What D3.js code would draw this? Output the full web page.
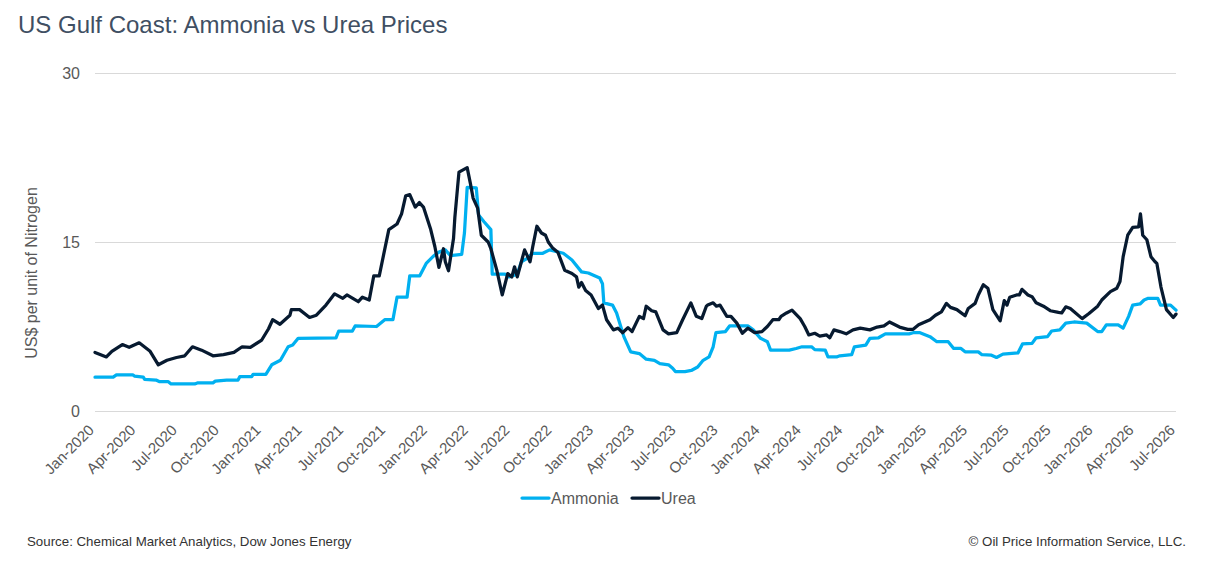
<!DOCTYPE html>
<html>
<head>
<meta charset="utf-8">
<script src="https://cdn.jsdelivr.net/npm/d3@7"></script>
<style>
  body { margin: 0; background: #ffffff; }
  svg { display: block; font-family: "Liberation Sans", Arial, sans-serif; }
</style>
</head>
<body>
<div id="chart"></div>
<script>
// Ammonia, US$ per unit of N
const ammoniaDates = [
  "2020-01-01","2020-02-10","2020-02-17","2020-03-24","2020-03-28","2020-04-16","2020-04-19","2020-05-14",
  "2020-05-22","2020-06-10","2020-06-16","2020-08-07","2020-08-14","2020-09-16","2020-09-21","2020-10-16",
  "2020-11-10","2020-11-14","2020-12-10","2020-12-13","2021-01-10","2021-01-23","2021-02-11","2021-02-28",
  "2021-03-10","2021-03-22","2021-06-13","2021-06-19","2021-07-19","2021-07-25","2021-09-10","2021-09-28",
  "2021-10-16","2021-10-25","2021-11-16","2021-11-22","2021-12-14","2021-12-28","2022-01-13","2022-01-25",
  "2022-02-08","2022-02-19","2022-03-16","2022-03-22","2022-03-28","2022-04-17","2022-04-22","2022-05-04",
  "2022-05-19","2022-05-22","2022-06-19","2022-06-28","2022-07-16","2022-07-25","2022-08-05","2022-08-19",
  "2022-09-10","2022-09-25","2022-10-25","2022-11-13","2022-12-04","2022-12-19","2023-01-13","2023-01-19",
  "2023-01-22","2023-02-10","2023-02-19","2023-03-07","2023-03-22","2023-04-10","2023-04-25","2023-05-13",
  "2023-05-25","2023-06-13","2023-06-22","2023-06-28","2023-07-19","2023-08-02","2023-08-16","2023-08-28",
  "2023-09-10","2023-09-19","2023-09-25","2023-10-16","2023-10-25","2023-12-04","2023-12-16","2024-01-01",
  "2024-01-16","2024-01-23","2024-03-04","2024-03-19","2024-04-01","2024-04-22","2024-04-29","2024-05-22",
  "2024-05-28","2024-06-16","2024-06-23","2024-07-19","2024-07-25","2024-08-19","2024-08-28","2024-09-16",
  "2024-10-01","2024-11-22","2024-12-01","2024-12-16","2025-01-07","2025-01-22","2025-02-16","2025-02-28",
  "2025-03-16","2025-03-25","2025-04-23","2025-05-01","2025-05-22","2025-06-02","2025-06-16","2025-07-19",
  "2025-07-29","2025-08-19","2025-08-28","2025-09-22","2025-10-01","2025-10-19","2025-11-01","2025-11-19",
  "2025-12-17","2026-01-10","2026-01-19","2026-01-29","2026-02-24","2026-03-07","2026-03-19","2026-03-28",
  "2026-04-13","2026-04-22","2026-05-01","2026-05-22","2026-05-28","2026-06-19","2026-07-01"
];
const ammoniaValues = [
  3.0,3.0,3.2,3.2,3.1,3.0,2.8,2.75,
  2.6,2.6,2.4,2.4,2.5,2.5,2.65,2.75,
  2.75,3.05,3.05,3.25,3.25,4.1,4.5,5.7,
  5.85,6.45,6.5,7.1,7.1,7.55,7.5,8.1,
  8.1,10.1,10.1,12.0,12.0,13.1,13.75,14.1,
  14.3,13.8,13.9,15.8,19.85,19.8,17.4,16.8,
  16.1,12.15,12.15,11.9,12.15,13.25,13.5,14.0,
  14.0,14.3,14.0,13.4,12.35,12.25,11.8,11.3,
  9.6,9.4,8.7,6.6,5.25,5.1,4.6,4.5,
  4.2,4.1,3.8,3.5,3.5,3.6,3.9,4.5,
  4.8,5.7,6.95,7.05,7.55,7.55,7.2,6.45,
  6.15,5.4,5.4,5.55,5.7,5.7,5.45,5.4,
  4.8,4.8,4.9,5.0,5.7,5.85,6.45,6.5,
  6.85,6.85,6.95,6.95,6.6,6.15,6.15,5.55,
  5.55,5.25,5.25,5.0,4.95,4.75,5.05,5.15,
  5.95,6.0,6.5,6.6,7.1,7.2,7.8,7.9,
  7.8,7.05,7.05,7.65,7.65,7.35,8.4,9.4,
  9.5,9.85,10.0,10.0,9.4,9.4,8.95
];

// Urea, US$ per unit of N
const ureaDates = [
  "2020-01-01","2020-01-26","2020-02-07","2020-03-01","2020-03-16","2020-04-07","2020-05-01","2020-05-19",
  "2020-06-07","2020-06-28","2020-07-16","2020-08-02","2020-08-22","2020-09-16","2020-10-09","2020-11-01",
  "2020-11-19","2020-12-07","2021-01-01","2021-01-16","2021-01-25","2021-02-10","2021-03-04","2021-03-07",
  "2021-03-25","2021-04-16","2021-05-01","2021-05-22","2021-06-10","2021-06-28","2021-07-07","2021-08-01",
  "2021-08-10","2021-08-25","2021-09-04","2021-09-16","2021-10-07","2021-10-25","2021-11-04","2021-11-13",
  "2021-11-22","2021-12-04","2021-12-13","2021-12-22","2022-01-07","2022-01-16","2022-01-25","2022-02-04",
  "2022-02-08","2022-02-15","2022-02-26","2022-03-01","2022-03-07","2022-03-10","2022-03-28","2022-04-04",
  "2022-04-10","2022-04-20","2022-04-28","2022-05-13","2022-05-19","2022-06-01","2022-06-13","2022-06-25",
  "2022-07-04","2022-07-10","2022-07-16","2022-08-01","2022-08-13","2022-08-19","2022-08-28","2022-09-07",
  "2022-09-16","2022-09-22","2022-10-01","2022-10-13","2022-10-28","2022-11-13","2022-11-23","2022-11-28",
  "2022-12-04","2022-12-13","2022-12-25","2023-01-10","2023-01-19","2023-01-28","2023-02-12","2023-02-22",
  "2023-03-04","2023-03-16","2023-03-25","2023-04-10","2023-04-19","2023-04-25","2023-05-07","2023-05-16",
  "2023-06-01","2023-06-13","2023-07-01","2023-07-14","2023-08-01","2023-08-13","2023-08-25","2023-09-04",
  "2023-09-07","2023-09-19","2023-09-26","2023-10-04","2023-10-19","2023-10-28","2023-11-10","2023-11-22",
  "2023-12-04","2023-12-19","2024-01-04","2024-01-16","2024-01-28","2024-02-10","2024-02-15","2024-02-27",
  "2024-03-10","2024-03-28","2024-04-07","2024-04-16","2024-04-29","2024-05-10","2024-05-25","2024-06-01",
  "2024-06-10","2024-06-23","2024-07-07","2024-07-22","2024-08-07","2024-08-28","2024-09-13","2024-09-28",
  "2024-10-10","2024-11-01","2024-11-19","2024-12-01","2024-12-13","2025-01-07","2025-01-19","2025-02-01",
  "2025-02-12","2025-02-21","2025-03-07","2025-03-25","2025-04-01","2025-04-16","2025-04-23","2025-05-04",
  "2025-05-14","2025-05-25","2025-06-10","2025-06-19","2025-06-25","2025-07-01","2025-07-16","2025-07-22",
  "2025-07-28","2025-08-10","2025-08-19","2025-08-28","2025-09-13","2025-09-28","2025-10-16","2025-10-23",
  "2025-11-01","2025-11-11","2025-12-07","2025-12-22","2026-01-10","2026-01-19","2026-02-07","2026-02-21",
  "2026-02-28","2026-03-07","2026-03-17","2026-03-28","2026-04-10","2026-04-14","2026-04-19","2026-04-28",
  "2026-05-07","2026-05-16","2026-05-20","2026-05-29","2026-06-10","2026-06-25","2026-07-01"
];
const ureaValues = [
  5.2,4.8,5.3,5.9,5.65,6.05,5.3,4.1,
  4.5,4.75,4.9,5.7,5.4,4.9,5.0,5.2,
  5.7,5.65,6.3,7.3,8.1,7.7,8.5,9.0,
  9.0,8.3,8.5,9.4,10.4,10.0,10.3,9.7,
  10.1,9.85,12.0,12.0,16.1,16.6,17.5,19.1,
  19.2,18.1,18.5,18.1,16.1,14.6,12.75,14.4,
  13.25,12.45,15.3,17.2,19.9,21.2,21.6,20.2,
  18.9,18.0,15.6,15.0,14.4,12.5,10.3,12.2,
  11.9,12.8,11.9,14.3,13.25,14.6,16.4,15.8,
  15.6,15.0,14.5,14.1,12.5,12.2,11.9,11.0,
  11.4,10.7,10.3,9.1,9.4,8.1,7.2,7.35,
  6.95,7.4,7.05,8.4,8.2,9.3,8.9,8.8,
  7.2,6.85,6.95,8.1,9.6,8.4,8.2,9.3,
  9.4,9.6,9.3,9.4,8.4,8.4,7.8,6.9,
  7.35,6.95,7.05,7.5,8.1,8.1,8.4,8.7,
  8.95,8.2,7.5,6.75,6.9,6.65,6.75,6.5,
  7.2,7.05,6.85,7.2,7.35,7.2,7.45,7.55,
  7.9,7.45,7.25,7.25,7.65,8.1,8.5,8.8,
  9.55,9.2,9.0,8.45,9.1,9.55,10.3,11.2,
  10.9,9.0,8.0,9.8,9.4,10.1,10.3,10.3,
  10.8,10.3,10.15,9.6,9.3,8.9,8.75,8.7,
  9.25,9.1,8.2,8.65,9.3,9.85,10.6,10.9,
  11.5,13.7,15.6,16.3,16.35,17.5,15.6,15.2,
  13.7,13.25,13.1,11.0,9.0,8.3,8.6
];

const yTicks = [0, 15, 30];
const seriesNames = ["Ammonia", "Urea"];
const seriesColors = ["#00b0f0", "#071a30"];

const width = 1206;
const height = 562;
const margin = { top: 73, right: 30, bottom: 151, left: 95 };

const parseDate = d3.timeParse("%Y-%m-%d");
const series = [
  ammoniaDates.map(function (d, i) { return { date: parseDate(d), value: ammoniaValues[i] }; }),
  ureaDates.map(function (d, i) { return { date: parseDate(d), value: ureaValues[i] }; })
];

const svg = d3.select("#chart")
  .append("svg")
  .attr("width", width)
  .attr("height", height);

const x = d3.scaleTime()
  .domain([parseDate("2020-01-01"), parseDate("2026-07-01")])
  .range([margin.left, width - margin.right]);

const y = d3.scaleLinear()
  .domain([0, 30])
  .range([height - margin.bottom, margin.top]);

// title
svg.append("text")
  .attr("x", 18)
  .attr("y", 33)
  .attr("font-size", 24)
  .attr("fill", "#3f4f63")
  .text("US Gulf Coast: Ammonia vs Urea Prices");

// gridlines + y labels
const yAxis = svg.append("g")
  .attr("transform", "translate(" + margin.left + ",0)")
  .call(d3.axisLeft(y)
    .tickValues(yTicks)
    .tickSize(-(width - margin.left - margin.right))
    .tickPadding(15));
yAxis.select(".domain").remove();
yAxis.selectAll(".tick line").attr("stroke", "#d9d9d9");
yAxis.selectAll(".tick text")
  .attr("font-size", 16)
  .attr("fill", "#595959")
  .attr("font-family", "Liberation Sans, Arial, sans-serif");

svg.append("text")
  .attr("transform", "translate(37,273) rotate(-90)")
  .attr("text-anchor", "middle")
  .attr("font-size", 16)
  .attr("fill", "#595959")
  .text("US$ per unit of Nitrogen");

// x labels
const fmt = d3.timeFormat("%b-%Y");
const xTicks = x.ticks(d3.timeMonth.every(3));
svg.append("g")
  .selectAll("text")
  .data(xTicks)
  .enter()
  .append("text")
  .attr("transform", function (d) { return "translate(" + x(d) + ",431) rotate(-45)"; })
  .attr("text-anchor", "end")
  .attr("font-size", 15)
  .attr("fill", "#595959")
  .text(function (d) { return fmt(d); });

// lines
const line = d3.line()
  .x(function (d) { return x(d.date); })
  .y(function (d) { return y(d.value); });

svg.append("g")
  .selectAll("path")
  .data(series)
  .enter()
  .append("path")
  .attr("d", line)
  .attr("fill", "none")
  .attr("stroke", function (d, i) { return seriesColors[i]; })
  .attr("stroke-width", 3.25)
  .attr("stroke-linejoin", "round")
  .attr("stroke-linecap", "round");

// legend
const legendX = [522, 632];
const legend = svg.append("g")
  .selectAll("g")
  .data(seriesNames)
  .enter()
  .append("g")
  .attr("transform", function (d, i) { return "translate(" + legendX[i] + ",498)"; });
legend.append("line")
  .attr("x1", 0).attr("x2", 27)
  .attr("stroke", function (d, i) { return seriesColors[i]; })
  .attr("stroke-width", 3.25)
  .attr("stroke-linecap", "round");
legend.append("text")
  .attr("x", 29)
  .attr("dy", "0.35em")
  .attr("font-size", 16)
  .attr("fill", "#595959")
  .text(function (d) { return d; });

// footer
svg.append("text")
  .attr("x", 27)
  .attr("y", 546)
  .attr("font-size", 13.3)
  .attr("fill", "#333333")
  .text("Source: Chemical Market Analytics, Dow Jones Energy");

svg.append("text")
  .attr("x", 1186)
  .attr("y", 546)
  .attr("text-anchor", "end")
  .attr("font-size", 13.3)
  .attr("fill", "#333333")
  .text("\u00a9 Oil Price Information Service, LLC.");
</script>
</body>
</html>
